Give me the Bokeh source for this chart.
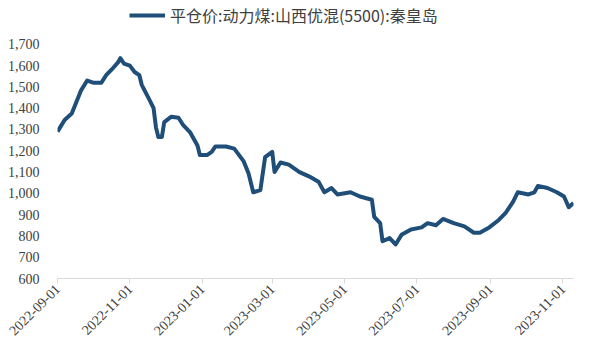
import math
import pandas as pd
from bokeh.plotting import figure
from bokeh.models import Range1d, FixedTicker, DatetimeTickFormatter, NumeralTickFormatter, Legend, LegendItem
from bokeh.embed import file_html
from bokeh.resources import INLINE

series_name = "平仓价:动力煤:山西优混(5500):秦皇岛"

dates = [
    "2022-09-01", "2022-09-07", "2022-09-13", "2022-09-17", "2022-09-21", "2022-09-26", "2022-10-01", "2022-10-08", "2022-10-12", "2022-10-18",
    "2022-10-22", "2022-10-24", "2022-10-27", "2022-11-01", "2022-11-05", "2022-11-09", "2022-11-11", "2022-11-17", "2022-11-21", "2022-11-23",
    "2022-11-25", "2022-11-28", "2022-11-30", "2022-12-06", "2022-12-12", "2022-12-16", "2022-12-22", "2022-12-28", "2022-12-30", "2023-01-05",
    "2023-01-09", "2023-01-12", "2023-01-21", "2023-01-28", "2023-02-05", "2023-02-09", "2023-02-13", "2023-02-19", "2023-02-23", "2023-03-01",
    "2023-03-03", "2023-03-08", "2023-03-15", "2023-03-24", "2023-04-01", "2023-04-09", "2023-04-14", "2023-04-20", "2023-04-25", "2023-05-06",
    "2023-05-14", "2023-05-24", "2023-05-26", "2023-05-31", "2023-06-02", "2023-06-08", "2023-06-13", "2023-06-18", "2023-06-26", "2023-07-05",
    "2023-07-10", "2023-07-17", "2023-07-23", "2023-08-01", "2023-08-10", "2023-08-18", "2023-08-23", "2023-08-31", "2023-09-08", "2023-09-14",
    "2023-09-20", "2023-09-24", "2023-10-03", "2023-10-08", "2023-10-11", "2023-10-19", "2023-10-27", "2023-11-02", "2023-11-06", "2023-11-10",
]

prices = [
    1290, 1345, 1375, 1430, 1485, 1530, 1520, 1520, 1555, 1590,
    1615, 1635, 1610, 1600, 1570, 1555, 1510, 1445, 1400, 1310,
    1265, 1265, 1335, 1360, 1355, 1320, 1285, 1225, 1180, 1180,
    1195, 1220, 1220, 1210, 1150, 1095, 1005, 1015, 1170, 1195,
    1100, 1145, 1135, 1100, 1080, 1055, 1005, 1025, 995, 1005,
    985, 970, 890, 860, 775, 790, 760, 805, 830, 840,
    860, 850, 880, 860, 845, 815, 815, 840, 875, 910,
    960, 1005, 995, 1005, 1035, 1025, 1005, 985, 935, 955,
]

x_tick_labels = ["2022-09-01", "2022-11-01", "2023-01-01", "2023-03-01", "2023-05-01", "2023-07-01", "2023-09-01", "2023-11-01"]
y_ticks = [600, 700, 800, 900, 1000, 1100, 1200, 1300, 1400, 1500, 1600, 1700]

x = pd.to_datetime(dates)
tick_ms = [pd.Timestamp(t).value // 10**6 for t in x_tick_labels]
x_start = pd.Timestamp(dates[0]).value // 10**6
x_end = pd.Timestamp(dates[-1]).value // 10**6

# frame spans the whole top area so the legend can sit above the 1,700 line
p = figure(width=575, height=342, x_axis_type="datetime", output_backend="svg",
           toolbar_location=None, min_border_left=57, min_border_right=2,
           min_border_top=0, min_border_bottom=63)
p.x_range = Range1d(x_start, x_end)
p.y_range = Range1d(600, 1906)

r = p.line(x, prices, line_color="#1F4E79", line_width=4, line_join="round")

p.xgrid.visible = False
p.ygrid.visible = False
p.outline_line_color = None
p.background_fill_color = "white"
p.border_fill_color = "white"

font = "Liberation Serif"
p.xaxis.ticker = FixedTicker(ticks=tick_ms)
p.xaxis.formatter = DatetimeTickFormatter(days="%Y-%m-%d", months="%Y-%m-%d", years="%Y-%m-%d")
p.xaxis.major_label_orientation = math.pi / 4
p.xaxis.axis_line_color = "#d9d9d9"
p.xaxis.major_tick_line_color = "#d9d9d9"
p.xaxis.major_tick_out = 5
p.xaxis.major_tick_in = 0
p.xaxis.major_label_standoff = 3
p.xaxis.minor_tick_line_color = None
p.xaxis.major_label_text_font = font
p.xaxis.major_label_text_font_size = "14px"
p.xaxis.major_label_text_color = "#404040"

p.yaxis.ticker = FixedTicker(ticks=y_ticks)
p.yaxis.formatter = NumeralTickFormatter(format="0,0")
p.yaxis.axis_line_color = None
p.yaxis.major_tick_line_color = None
p.yaxis.minor_tick_line_color = None
p.yaxis.major_label_standoff = 12
p.yaxis.major_label_text_font = font
p.yaxis.major_label_text_font_size = "14px"
p.yaxis.major_label_text_color = "#404040"

legend = Legend(items=[LegendItem(label=series_name, renderers=[r])],
                location=(72, 251), orientation="horizontal",
                glyph_width=36, glyph_height=16, padding=2, margin=0,
                label_text_font="Noto Sans CJK SC", label_text_font_size="16px",
                label_text_color="#404040", border_line_color=None,
                background_fill_alpha=0)
p.add_layout(legend)

open("out.html", "w").write(file_html(p, INLINE))
